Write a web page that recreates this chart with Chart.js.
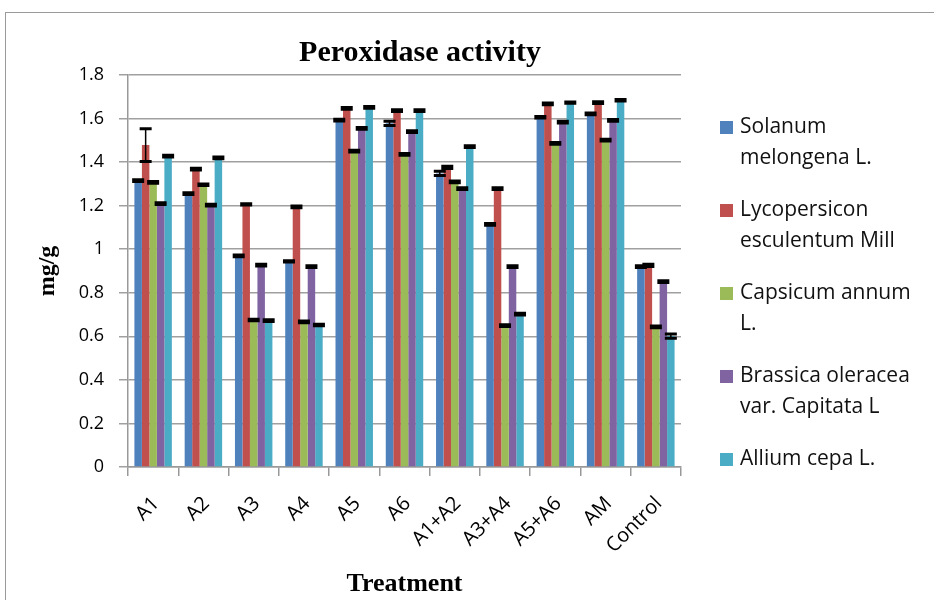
<!DOCTYPE html>
<html>
<head>
<meta charset="utf-8">
<script src="https://cdn.jsdelivr.net/npm/chart.js@4.4.0/dist/chart.umd.min.js"></script>
<style>
	html, body { margin: 0; padding: 0; background: #fff; }
	#wrap { position: relative; width: 934px; height: 600px; overflow: hidden; }
	#frame { position: absolute; left: 5px; top: 12px; width: 960px; height: 620px;
		border-left: 1.5px solid #9a9a9a; border-top: 1.5px solid #9a9a9a; }
	canvas { position: absolute; left: 0; top: 0; }
</style>
</head>
<body>
<div id="wrap">
	<div id="frame"></div>
	<canvas id="chart" width="934" height="600"></canvas>
</div>
<script>
const categories = ["A1", "A2", "A3", "A4", "A5", "A6", "A1+A2", "A3+A4", "A5+A6", "AM", "Control"];
const seriesNames = [
	["Solanum", "melongena L."],
	["Lycopersicon", "esculentum Mill"],
	["Capsicum annum", "L."],
	["Brassica oleracea", "var. Capitata L"],
	["Allium cepa L."]
];
const seriesColors = ["#4F81BD", "#C0504D", "#9BBB59", "#8064A2", "#4BACC6"];

const solanum = [1.315, 1.255, 0.97, 0.944, 1.593, 1.578, 1.348, 1.114, 1.606, 1.621, 0.92];
const lycopersicon = [1.478, 1.368, 1.206, 1.195, 1.647, 1.636, 1.376, 1.278, 1.667, 1.673, 0.926];
const capsicum = [1.307, 1.296, 0.675, 0.666, 1.451, 1.436, 1.309, 0.649, 1.486, 1.501, 0.643];
const brassica = [1.209, 1.203, 0.927, 0.92, 1.555, 1.54, 1.278, 0.92, 1.584, 1.592, 0.851];
const allium = [1.428, 1.42, 0.672, 0.652, 1.651, 1.636, 1.471, 0.702, 1.673, 1.684, 0.601];

const solanumErr = [0.004, 0.004, 0.004, 0.003, 0.004, 0.01, 0.01, 0.004, 0.004, 0.004, 0.004];
const lycopersiconErr = [0.075, 0.004, 0.003, 0.004, 0.004, 0.004, 0.005, 0.004, 0.004, 0.004, 0.005];
const capsicumErr = [0.004, 0.003, 0.004, 0.004, 0.004, 0.004, 0.004, 0.004, 0.004, 0.004, 0.004];
const brassicaErr = [0.004, 0.004, 0.004, 0.004, 0.004, 0.004, 0.004, 0.004, 0.004, 0.004, 0.004];
const alliumErr = [0.004, 0.004, 0.004, 0.003, 0.004, 0.004, 0.004, 0.004, 0.003, 0.003, 0.01];

const yTicks = [0, 0.2, 0.4, 0.6, 0.8, 1, 1.2, 1.4, 1.6, 1.8];

const seriesValues = [solanum, lycopersicon, capsicum, brassica, allium];
const seriesErrors = [solanumErr, lycopersiconErr, capsicumErr, brassicaErr, alliumErr];

// error bars drawn on top of every bar, through the y scale
const errorBars = {
	id: "errorBars",
	afterDatasetsDraw(chart) {
		const ctx = chart.ctx;
		const y = chart.scales.y;
		ctx.save();
		ctx.strokeStyle = "#000";
		chart.data.datasets.forEach((ds, i) => {
			const meta = chart.getDatasetMeta(i);
			meta.data.forEach((bar, j) => {
				const v = ds.data[j];
				const e = seriesErrors[i][j];
				const top = y.getPixelForValue(v + e);
				const bot = y.getPixelForValue(v - e);
				ctx.lineWidth = 1.5;
				ctx.beginPath();
				ctx.moveTo(bar.x, top);
				ctx.lineTo(bar.x, bot);
				ctx.stroke();
				ctx.lineWidth = 3;
				ctx.beginPath();
				ctx.moveTo(bar.x - 6, top);
				ctx.lineTo(bar.x + 6, top);
				ctx.moveTo(bar.x - 6, bot);
				ctx.lineTo(bar.x + 6, bot);
				ctx.stroke();
			});
		});
		ctx.restore();
	}
};

// title and two-line legend on the right
const extras = {
	id: "extras",
	afterDraw(chart) {
		const ctx = chart.ctx;
		ctx.save();
		ctx.fillStyle = "#000";
		ctx.font = "bold 30px 'Liberation Serif'";
		ctx.textAlign = "center";
		ctx.textBaseline = "middle";
		ctx.fillText("Peroxidase activity", 420, 53);

		ctx.font = "21px 'Open Sans'";
		ctx.textAlign = "left";
		let yPos = 127;
		seriesNames.forEach((lines, i) => {
			ctx.fillStyle = seriesColors[i];
			ctx.fillRect(720, yPos - 6, 13, 13);
			ctx.fillStyle = "#111";
			lines.forEach((t, k) => {
				ctx.fillText(t, 740, yPos + k * 31);
			});
			yPos += 83;
		});
		ctx.restore();
	}
};

new Chart(document.getElementById("chart"), {
	type: "bar",
	data: {
		labels: categories,
		datasets: seriesValues.map((vals, i) => ({
			label: seriesNames[i].join(" "),
			data: vals,
			backgroundColor: seriesColors[i],
			borderWidth: 0,
			categoryPercentage: 0.745,
			barPercentage: 1.0,
		})),
	},
	options: {
		responsive: false,
		animation: false,
		events: [],
		layout: { padding: { top: 75, right: 253, left: 29, bottom: 0 } },
		plugins: {
			legend: { display: false },
			title: { display: false },
			tooltip: { enabled: false },
		},
		scales: {
			x: {
				grid: {
					display: true,
					offset: true,
					drawOnChartArea: false,
					tickLength: 9,
					color: "#999",
					lineWidth: 1.5,
				},
				border: { color: "#999", width: 1.5 },
				ticks: {
					minRotation: 45,
					maxRotation: 45,
					color: "#000",
					padding: 16,
					labelOffset: 3,
					font: { family: "'Open Sans'", size: 20 },
				},
				title: {
					display: true,
					text: "Treatment",
					color: "#000",
					padding: { top: 4, bottom: 0 },
					font: { family: "'Liberation Serif'", size: 26, weight: "bold" },
				},
				afterFit(scale) { scale.height = 133; },
			},
			y: {
				min: 0,
				max: 1.8,
				afterBuildTicks(scale) { scale.ticks = yTicks.map(v => ({ value: v })); },
				grid: { color: "#a0a0a0", lineWidth: 1.5, tickLength: 9 },
				border: { color: "#999", width: 1.5 },
				ticks: {
					color: "#000",
					padding: 15,
					font: { family: "'Open Sans'", size: 18 },
					callback: v => String(+v.toFixed(1)),
				},
				title: {
					display: true,
					text: "mg/g",
					color: "#000",
					font: { family: "'Liberation Serif'", size: 24, weight: "bold" },
				},
				afterFit(scale) { scale.width = 99; },
			},
		},
	},
	plugins: [errorBars, extras],
});
</script>
</body>
</html>
